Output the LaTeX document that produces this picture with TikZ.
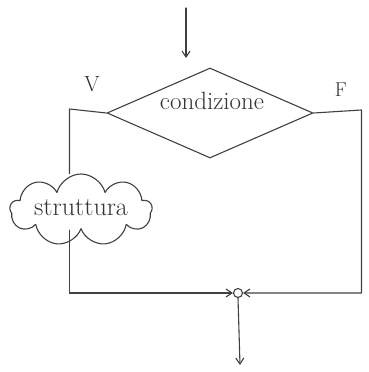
\documentclass[tikz,border=0pt]{standalone}
\usetikzlibrary{shapes.geometric,shapes.symbols,arrows.meta}
\begin{document}
\begin{tikzpicture}[x=1pt,y=-1pt,
  pen/.style={draw=black!75,line width=1.1pt,line cap=round,line join=round},
  arr/.style={pen,-{Straight Barb[length=6pt,width=8pt]}},
  lbl/.style={text=black!80}]
\useasboundingbox (0,0) rectangle (368,372);
\coordinate (start) at (186,8);
\coordinate (startend) at (186,58);
\node[pen,diamond,aspect=2.25,minimum width=206pt,minimum height=90pt,inner sep=0pt] (cond) at (210,113) {};
\node[lbl,font=\fontsize{25}{27}\selectfont] (condtxt) at (212,101) {condizione};
\node[lbl,font=\fontsize{22}{24}\selectfont] (V) at (92,84) {V};
\node[lbl,font=\fontsize{20}{22}\selectfont] (F) at (341,90) {F};
\node[pen,cloud,cloud puffs=9,cloud puff arc=150,cloud ignores aspect,minimum width=142pt,minimum height=72pt,inner sep=0pt] (strut) at (81,210) {};
\node[lbl,font=\fontsize{26}{28}\selectfont] (struttxt) at (81,208) {struttura};
\node[pen,circle,minimum size=9pt,inner sep=0pt] (join) at (238,293) {};
\coordinate (lc) at (69.5,109);
\coordinate (lb) at (69.5,293);
\coordinate (rc) at (361.5,110);
\coordinate (rb) at (361.5,293);
\coordinate (endp) at (240,365);
\draw[arr] (start) -- (startend);
\draw[pen] (cond.west) -- (lc) -- (strut.north -| lc);
\draw[pen] (strut.south -| lb) -- (lb);
\draw[arr] (lb) -- (join.west);
\draw[arr] (cond.east) -- (rc) -- (rb) -- (join.east);
\draw[arr] (join.south) -- (endp);
\end{tikzpicture}
\end{document}
